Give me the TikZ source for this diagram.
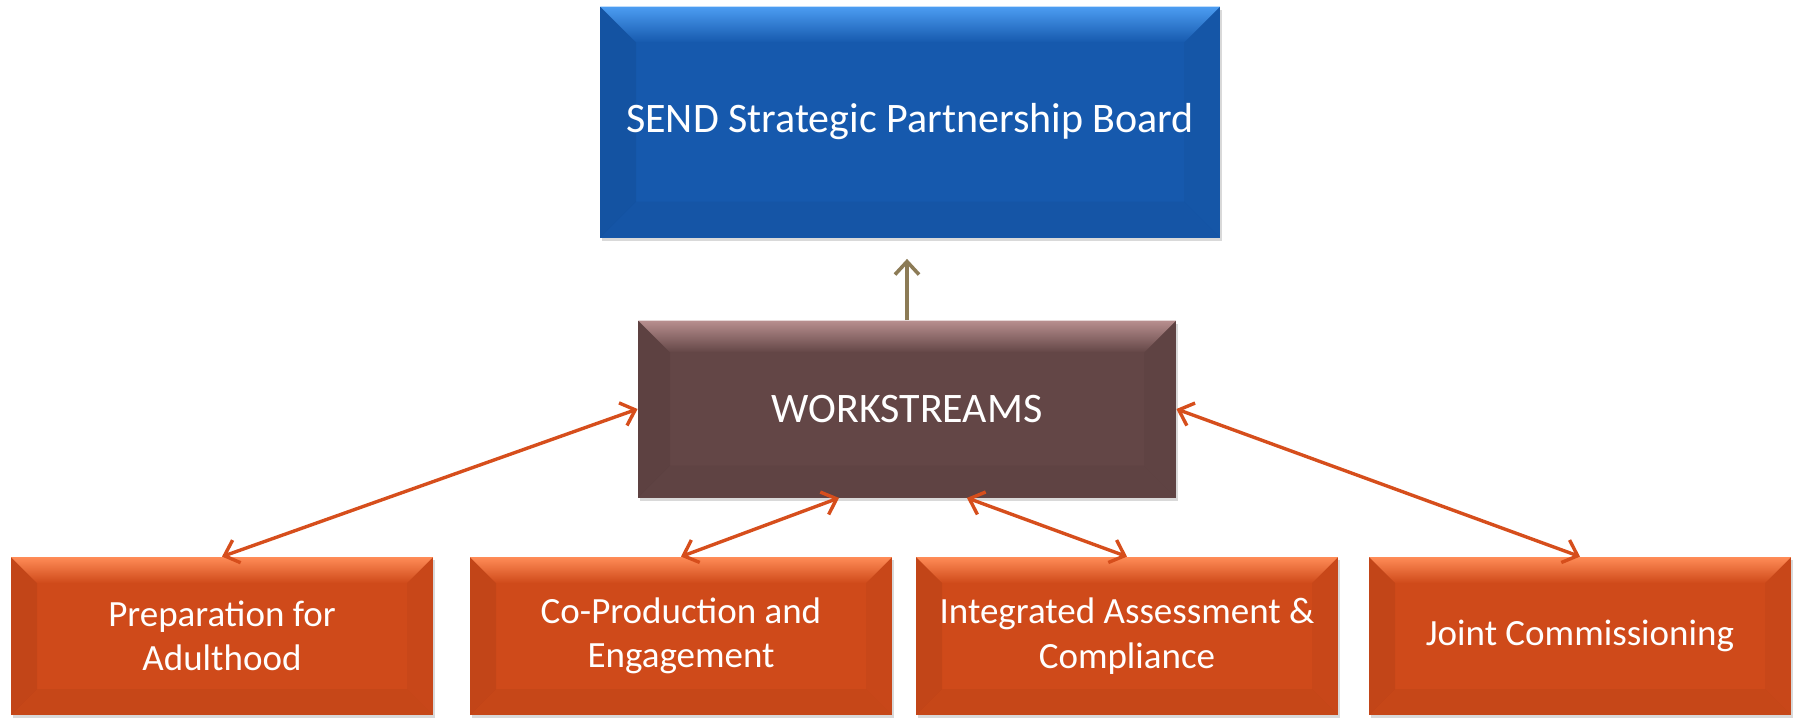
\documentclass[tikz,border=0pt]{standalone}
\usepackage{fontspec}
\setmainfont{Carlito}
\usetikzlibrary{arrows.meta,shadows}

\definecolor{boardblue}{HTML}{1659AD}
\definecolor{boardlight}{HTML}{4C9DF2}
\definecolor{workbrown}{HTML}{634646}
\definecolor{worklight}{HTML}{B88F8F}
\definecolor{streamorange}{HTML}{CF4A1A}
\definecolor{streamlight}{HTML}{FF8C57}
\definecolor{linkorange}{HTML}{D64E1C}
\definecolor{upolive}{HTML}{8C7B56}

\tikzset{
  bevelbox/.style n args={3}{rectangle, fill=#1, text=white, align=center, inner sep=0pt,
    drop shadow={opacity=0.3, shadow xshift=1pt, shadow yshift=-1.5pt},
    path picture={
      \path (path picture bounding box.north west) coordinate (bnw)
            (path picture bounding box.north east) coordinate (bne)
            (path picture bounding box.south west) coordinate (bsw)
            (path picture bounding box.south east) coordinate (bse);
      % bevel edges
      \shade[top color=#2, bottom color=#1] (bnw) -- (bne) -- ([shift={(-#3,-#3)}]bne) -- ([shift={(#3,-#3)}]bnw) -- cycle;
      \fill[black, opacity=0.06] (bnw) -- ([shift={(#3,-#3)}]bnw) -- ([shift={(#3,#3)}]bsw) -- (bsw) -- cycle;
      \fill[black, opacity=0.03] (bne) -- ([shift={(-#3,-#3)}]bne) -- ([shift={(-#3,#3)}]bse) -- (bse) -- cycle;
      \fill[black, opacity=0.04] (bsw) -- ([shift={(#3,#3)}]bsw) -- ([shift={(-#3,#3)}]bse) -- (bse) -- cycle;
    }},
  boardbox/.style={bevelbox={boardblue}{boardlight}{18pt}, minimum width=310pt, minimum height=115.5pt, font=\fontsize{21}{25}\selectfont},
  workbox/.style={bevelbox={workbrown}{worklight}{16pt}, minimum width=269pt, minimum height=88.5pt, font=\fontsize{21}{25}\selectfont},
  streambox/.style={bevelbox={streamorange}{streamlight}{13pt}, minimum width=211pt, minimum height=79pt, font=\fontsize{18.5}{22.3}\selectfont},
  linkarr/.style={{Straight Barb[length=6.5pt,width=12pt]}-{Straight Barb[length=6.5pt,width=12pt]}, line width=1.7pt, draw=linkorange},
  uparr/.style={-{Straight Barb[length=6.5pt,width=12pt]}, line width=1.8pt, draw=upolive, shorten >=10.5pt},
}

\begin{document}
\begin{tikzpicture}[x=0.5pt, y=-0.5pt]
  \useasboundingbox (0,0) rectangle (1795,718);

  \node[boardbox] (board) at (910,122) {SEND Strategic Partnership Board};
  \node[workbox] (work) at (907,409) {WORKSTREAMS};

  \node[streambox] (prep)   at (222,636)  {Preparation for\\Adulthood};
  \node[streambox] (coprod) at (681,636)  {Co-Production and\\Engagement};
  \node[streambox] (assess) at (1127,636) {Integrated Assessment \&\\Compliance};
  \node[streambox] (joint)  at (1580,636) {Joint Commissioning};

  \draw[uparr] (work.north) -- (work.north |- board.south);

  \draw[linkarr] (work.west) -- (prep.north);
  \draw[linkarr] ([xshift=-34pt]work.south) -- (coprod.north);
  \draw[linkarr] ([xshift=30pt]work.south) -- (assess.north);
  \draw[linkarr] (work.east) -- (joint.north);
\end{tikzpicture}
\end{document}
